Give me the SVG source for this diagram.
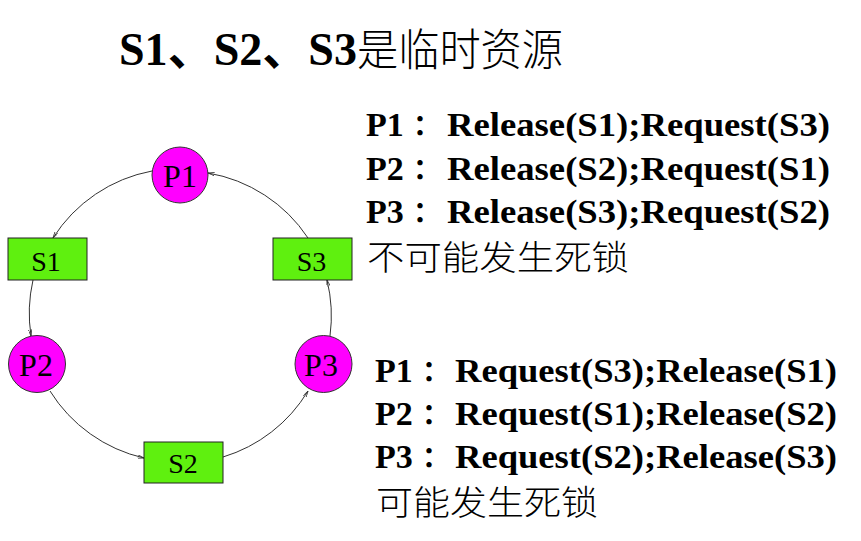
<svg xmlns="http://www.w3.org/2000/svg" width="861" height="541" viewBox="0 0 861 541">
  <style>
    .proc { fill: #FF00FF; stroke: #333333; stroke-width: 1; }
    .res { fill: #5FF00F; stroke: #222222; stroke-width: 1; }
    .lbl { font-family: "Liberation Serif", "Times New Roman", serif; fill: #000; text-anchor: middle; }
    .edge { fill: none; stroke: #333333; stroke-width: 1; marker-end: url(#arr); }
    .bold { font-family: "Liberation Serif", "Noto Sans CJK SC", serif; font-weight: bold; fill: #000; }
    .colon { font-family: "Noto Sans CJK SC", sans-serif; font-size: 28px; font-weight: bold; fill: #000; }
    .cjk { font-family: "Noto Sans CJK SC", sans-serif; font-weight: 300; fill: #000; }
  </style>
  <defs>
    <marker id="arr" viewBox="0 0 8 4" refX="7.5" refY="2" markerWidth="7" markerHeight="3.5" markerUnits="userSpaceOnUse" orient="auto">
      <path d="M0,0 L7.5,2 L0,4" fill="none" stroke="#333333" stroke-width="0.9"/>
    </marker>
  </defs>
  <rect x="0" y="0" width="861" height="541" fill="#FFFFFF"/>

  <g id="title">
    <text class="bold" x="119" y="65" font-size="46" textLength="238" lengthAdjust="spacingAndGlyphs">S1、S2、S3</text>
    <text class="cjk" x="357" y="66" font-size="44" textLength="206" lengthAdjust="spacingAndGlyphs">是临时资源</text>
  </g>

  <g id="connectors">
    <path class="edge" d="M152,171 A150,150 0 0 0 53,238"/>
    <path class="edge" d="M33,280 A150,150 0 0 0 31,336"/>
    <path class="edge" d="M50,391 A150,150 0 0 0 144,458"/>
    <path class="edge" d="M223,457 A150,150 0 0 0 308,391"/>
    <path class="edge" d="M330,336 A150,150 0 0 0 327,280"/>
    <path class="edge" d="M308,238 A150,150 0 0 0 208,173"/>
  </g>

  <g id="P1">
    <circle class="proc" cx="180" cy="175" r="28"/>
    <text class="lbl" x="180" y="187" font-size="32">P1</text>
  </g>
  <g id="P2">
    <circle class="proc" cx="37" cy="364" r="28.5"/>
    <text class="lbl" x="36" y="376" font-size="32">P2</text>
  </g>
  <g id="P3">
    <circle class="proc" cx="323.5" cy="364" r="28.5"/>
    <text class="lbl" x="321" y="376" font-size="32">P3</text>
  </g>
  <g id="S1">
    <rect class="res" x="8" y="238" width="79" height="42"/>
    <text class="lbl" x="46" y="271" font-size="28">S1</text>
  </g>
  <g id="S3">
    <rect class="res" x="273" y="238" width="79" height="42"/>
    <text class="lbl" x="311.5" y="271" font-size="28">S3</text>
  </g>
  <g id="S2">
    <rect class="res" x="144" y="442" width="79" height="41"/>
    <text class="lbl" x="183" y="473" font-size="28">S2</text>
  </g>

  <g id="case1">
    <text class="bold" x="366" y="136" font-size="34">P1</text>
    <text class="colon" x="413" y="135">：</text>
    <text class="bold" x="447" y="136" font-size="34" textLength="383" lengthAdjust="spacingAndGlyphs">Release(S1);Request(S3)</text>
    <text class="bold" x="366" y="180" font-size="34">P2</text>
    <text class="colon" x="413" y="179">：</text>
    <text class="bold" x="447" y="180" font-size="34" textLength="383" lengthAdjust="spacingAndGlyphs">Release(S2);Request(S1)</text>
    <text class="bold" x="366" y="223" font-size="34">P3</text>
    <text class="colon" x="413" y="222">：</text>
    <text class="bold" x="447" y="223" font-size="34" textLength="383" lengthAdjust="spacingAndGlyphs">Release(S3);Request(S2)</text>
    <text class="cjk" x="367" y="270" font-size="34" textLength="262" lengthAdjust="spacingAndGlyphs">不可能发生死锁</text>
  </g>

  <g id="case2">
    <text class="bold" x="375" y="382" font-size="34">P1</text>
    <text class="colon" x="422" y="381">：</text>
    <text class="bold" x="455" y="382" font-size="34" textLength="382" lengthAdjust="spacingAndGlyphs">Request(S3);Release(S1)</text>
    <text class="bold" x="375" y="425" font-size="34">P2</text>
    <text class="colon" x="422" y="424">：</text>
    <text class="bold" x="455" y="425" font-size="34" textLength="382" lengthAdjust="spacingAndGlyphs">Request(S1);Release(S2)</text>
    <text class="bold" x="375" y="468" font-size="34">P3</text>
    <text class="colon" x="422" y="467">：</text>
    <text class="bold" x="455" y="468" font-size="34" textLength="382" lengthAdjust="spacingAndGlyphs">Request(S2);Release(S3)</text>
    <text class="cjk" x="376" y="515" font-size="34" textLength="222" lengthAdjust="spacingAndGlyphs">可能发生死锁</text>
  </g>
</svg>
